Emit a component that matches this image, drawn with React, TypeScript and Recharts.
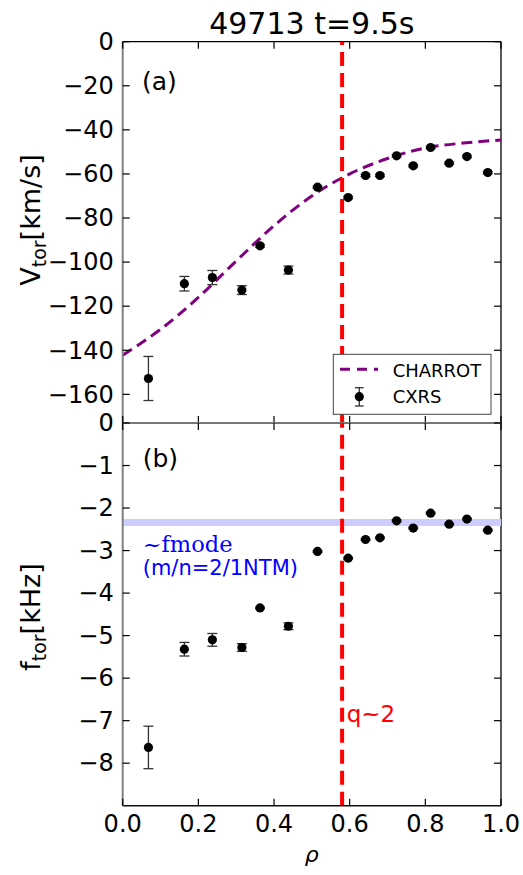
import React from 'react';
import { ComposedChart, XAxis, YAxis, Line, Scatter, ErrorBar, ReferenceLine } from 'recharts';

// ---- data ----
const rho = [0.068, 0.163, 0.237, 0.315, 0.363, 0.438, 0.515, 0.596, 0.642, 0.68, 0.724, 0.768, 0.814, 0.863, 0.91, 0.965];
const vtor = [-152.8, -109.8, -107.0, -112.7, -92.6, -103.6, -66.0, -70.7, -60.7, -60.7, -51.8, -56.3, -48.0, -55.1, -52.1, -59.4];
const vtorErr = [10, 3.3, 3.2, 2.0, 0.6, 1.8, 0.5, 0.5, 0.5, 0.5, 0.5, 0.5, 0.5, 0.5, 0.5, 0.5];
const ftor = [-7.63, -5.32, -5.1, -5.28, -4.35, -4.78, -3.02, -3.18, -2.74, -2.7, -2.3, -2.47, -2.12, -2.38, -2.26, -2.52];
const ftorErr = [0.5, 0.16, 0.15, 0.09, 0.02, 0.08, 0.02, 0.02, 0.02, 0.02, 0.02, 0.02, 0.02, 0.02, 0.02, 0.02];
const charrotRho = [0, 0.1, 0.2, 0.3, 0.4, 0.5, 0.6, 0.7, 0.8, 0.9, 1.0];
const charrotV = [-142.2, -130.5, -116, -99.5, -83.5, -70, -60, -53, -48.2, -46, -44.6];
const xTicks = [0, 0.2, 0.4, 0.6, 0.8, 1.0];
const vTicks = [0, -20, -40, -60, -80, -100, -120, -140, -160];
const fTicks = [0, -1, -2, -3, -4, -5, -6, -7, -8];
const vDomain = [-173, 0];
const fDomain = [-9, 0];
const q2Rho = 0.58;
const fModeLevel = -2.34;

const cxrsV = rho.map((r, i) => ({ rho: r, v: vtor[i], err: vtorErr[i] }));
const cxrsF = rho.map((r, i) => ({ rho: r, f: ftor[i], err: ftorErr[i] }));
const charrot = charrotRho.map((r, i) => ({ rho: r, v: charrotV[i] }));

// ---- layout ----
const W = 523;
const PL = 122.7;
const PR = 501;
const FONT = 'DejaVu Sans';
const C2TOP = 400;

const fmt = (v: number) => (v < 0 ? `\u2212${Math.abs(v)}` : `${v}`);

const makeYTick = () => (props: any) => {
  const { y, payload } = props;
  return (
    <g>
      <line x1={PL} x2={PL + 7} y1={y} y2={y} stroke="#000" strokeWidth={1.2} />
      <line x1={PR - 7} x2={PR} y1={y} y2={y} stroke="#000" strokeWidth={1.2} />
      <text x={PL - 9} y={y + 8.3} textAnchor="end" fontSize={24} fontFamily={FONT} fill="#000">
        {fmt(payload.value)}
      </text>
    </g>
  );
};

const makeXTick = (top: number, bottom: number, showLabel: boolean) => (props: any) => {
  const { x, payload } = props;
  return (
    <g>
      <line x1={x} x2={x} y1={top} y2={top + 7} stroke="#000" strokeWidth={1.2} />
      <line x1={x} x2={x} y1={bottom - 7} y2={bottom} stroke="#000" strokeWidth={1.2} />
      {showLabel && (
        <text x={x} y={bottom + 26.6} textAnchor="middle" fontSize={24} fontFamily={FONT} fill="#000">
          {Number(payload.value).toFixed(1)}
        </text>
      )}
    </g>
  );
};

const dot = (p: any) => <circle cx={p.cx} cy={p.cy} r={4.6} fill="#000" />;

export default function App() {
  return (
    <div style={{ position: 'absolute', left: 0, top: 0, width: W, height: 875, background: '#fff' }}>
      {/* Panel (a) */}
      <div style={{ position: 'absolute', left: 0, top: 0 }}>
        <ComposedChart width={W} height={440} margin={{ top: 41.7, right: 22, bottom: 0, left: 0 }}>
          <XAxis
            type="number"
            dataKey="rho"
            domain={[0, 1]}
            ticks={xTicks}
            interval={0}
            allowDataOverflow
            height={17}
            axisLine={{ stroke: '#777', strokeWidth: 2 }}
            tickLine={false}
            tick={makeXTick(41.7, 423, false)}
          />
          <YAxis
            type="number"
            dataKey="v"
            domain={vDomain}
            ticks={vTicks}
            interval={0}
            allowDataOverflow
            width={PL}
            axisLine={{ stroke: '#808080', strokeWidth: 2 }}
            tickLine={false}
            tick={makeYTick()}
          />
          <ReferenceLine y={0} stroke="#000" strokeWidth={1.3} />
          <ReferenceLine x={1} stroke="#000" strokeWidth={1.3} />
          <Line
            data={charrot}
            dataKey="v"
            type="monotone"
            stroke="#800080"
            strokeWidth={3}
            strokeDasharray="11 6"
            dot={false}
            activeDot={false}
            isAnimationActive={false}
          />
          <Scatter data={cxrsV} dataKey="v" shape={dot} isAnimationActive={false}>
            <ErrorBar dataKey="err" direction="y" width={5} stroke="#333" strokeWidth={1.3} isAnimationActive={false} />
          </Scatter>
          <ReferenceLine x={q2Rho} stroke="#ff0000" strokeWidth={4} strokeDasharray="14 7" />
        </ComposedChart>
      </div>

      {/* Panel (b) */}
      <div style={{ position: 'absolute', left: 0, top: C2TOP }}>
        <ComposedChart width={W} height={475} margin={{ top: 23, right: 22, bottom: 0, left: 0 }}>
          <XAxis
            type="number"
            dataKey="rho"
            domain={[0, 1]}
            ticks={xTicks}
            interval={0}
            allowDataOverflow
            height={69.3}
            axisLine={{ stroke: '#111', strokeWidth: 1.5 }}
            tickLine={false}
            tick={makeXTick(23, 405.7, true)}
          />
          <YAxis
            type="number"
            dataKey="f"
            domain={fDomain}
            ticks={fTicks}
            interval={0}
            allowDataOverflow
            width={PL}
            axisLine={{ stroke: '#808080', strokeWidth: 2 }}
            tickLine={false}
            tick={makeYTick()}
          />
          <ReferenceLine y={0} stroke="#777" strokeWidth={2} />
          <ReferenceLine x={1} stroke="#000" strokeWidth={1.3} />
          <ReferenceLine y={fModeLevel} stroke="#ccccff" strokeWidth={7} />
          <Scatter data={cxrsF} dataKey="f" shape={dot} isAnimationActive={false}>
            <ErrorBar dataKey="err" direction="y" width={5} stroke="#333" strokeWidth={1.3} isAnimationActive={false} />
          </Scatter>
          <ReferenceLine x={q2Rho} stroke="#ff0000" strokeWidth={4} strokeDasharray="14 7" />
        </ComposedChart>
      </div>

      {/* Text overlay & legend */}
      <svg
        width={W}
        height={875}
        style={{ position: 'absolute', left: 0, top: 0, pointerEvents: 'none' }}
        fontFamily={FONT}
      >
        <text x={311.8} y={34} textAnchor="middle" fontSize={30} fill="#000">49713 t=9.5s</text>
        <text x={142} y={90} fontSize={25} fill="#000">(a)</text>
        <text x={142.7} y={466.7} fontSize={25} fill="#000">(b)</text>

        <text transform="rotate(-90)" x={-220} y={40} textAnchor="middle" fontSize={27} fill="#000">
          V<tspan fontSize={19} dy={6}>tor</tspan><tspan dy={-6}>[km/s]</tspan>
        </text>
        <text transform="rotate(-90)" x={-617} y={40} textAnchor="middle" fontSize={27} fill="#000">
          f<tspan fontSize={19} dy={6}>tor</tspan><tspan dy={-6}>[kHz]</tspan>
        </text>

        <text x={311.8} y={862} textAnchor="middle" fontSize={22} fontStyle="italic" fill="#000">ρ</text>

        <text x={142.7} y={552} fontSize={22.5} fontFamily="DejaVu Serif" fill="#0000ff">~fmode</text>
        <text x={142.7} y={575} fontSize={21} fill="#0000ff">(m/n=2/1NTM)</text>
        <text x={346.7} y={722} fontSize={23} fill="#ff0000">q~2</text>

        {/* legend */}
        <rect x={333.3} y={354.3} width={157.7} height={60} fill="#fff" stroke="#444" strokeWidth={1} />
        <line x1={340} x2={378} y1={369.3} y2={369.3} stroke="#800080" strokeWidth={3} strokeDasharray="10 7" />
        <text x={392.7} y={376.5} fontSize={18} fill="#000">CHARROT</text>
        <line x1={359.3} x2={359.3} y1={387.7} y2={406} stroke="#333" strokeWidth={1.3} />
        <line x1={355} x2={363.6} y1={387.7} y2={387.7} stroke="#333" strokeWidth={1.3} />
        <line x1={355} x2={363.6} y1={406} y2={406} stroke="#333" strokeWidth={1.3} />
        <circle cx={359.3} cy={396.7} r={4.6} fill="#000" />
        <text x={392.7} y={403.3} fontSize={18} fill="#000">CXRS</text>
      </svg>
    </div>
  );
}
